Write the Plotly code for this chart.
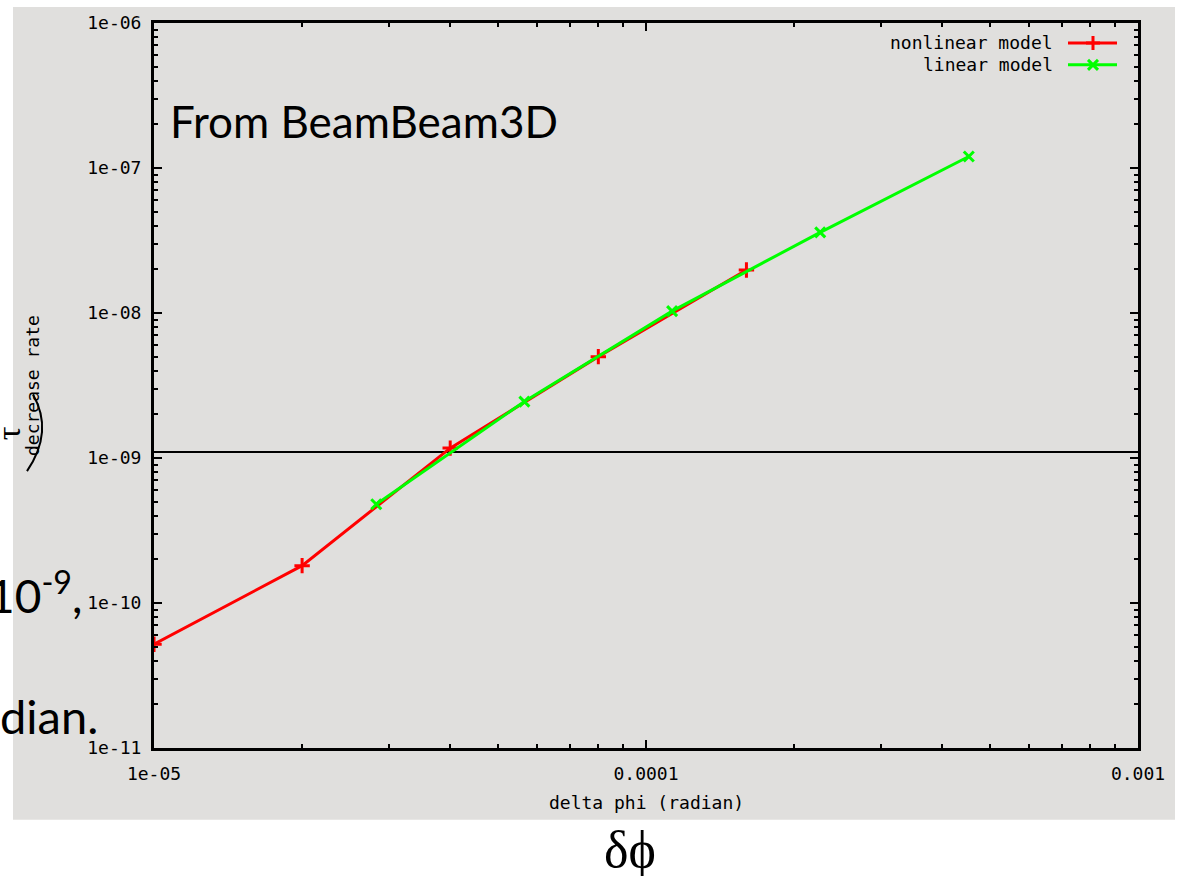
import plotly.graph_objects as go

# ---- data ----
nonlinear_x = [1e-5, 2e-5, 4e-5, 8e-5, 1.6e-4]
nonlinear_y = [5.2e-11, 1.81e-10, 1.17e-9, 5.0e-9, 1.98e-8]
linear_x = [2.83e-5, 5.66e-5, 1.13e-4, 2.26e-4, 4.53e-4]
linear_y = [4.8e-10, 2.45e-9, 1.03e-8, 3.6e-8, 1.2e-7]
threshold_y = 1.1e-9
x_range = [1e-5, 1e-3]
y_range = [1e-11, 1e-6]
x_tickvals = [1e-5, 1e-4, 1e-3]
x_ticktext = ["1e-05", "0.0001", "0.001"]
y_tickvals = [1e-11, 1e-10, 1e-9, 1e-8, 1e-7, 1e-6]
y_ticktext = ["1e-11", "1e-10", "1e-09", "1e-08", "1e-07", "1e-06"]
minor_digits = [2, 3, 4, 5, 6, 7, 8, 9]
series_names = ["nonlinear model", "linear model"]
series_colors = ["#ff0000", "#00ff00"]

x_minor = [d * v for v in x_tickvals[:-1] for d in minor_digits]
y_minor = [d * v for v in y_tickvals[:-1] for d in minor_digits]

W, H = 1186, 876
L, R, T, B = 154, 1138, 20, 748  # plot area in px


def px(x):
    return (x - L) / (R - L)


def py(y):
    return (B - y) / (B - T)


BG = "#e0dfdd"
MONO = "DejaVu Sans Mono"
MSIZE = 18

fig = go.Figure()

fig.add_trace(go.Scatter(
    x=x_range, y=[threshold_y, threshold_y], mode="lines",
    line=dict(color="black", width=2), showlegend=False, hoverinfo="skip"))

fig.add_trace(go.Scatter(
    x=nonlinear_x, y=nonlinear_y, mode="lines+markers", name=series_names[0],
    line=dict(color=series_colors[0], width=3),
    marker=dict(symbol="cross-thin", size=11, line=dict(color=series_colors[0], width=3)),
    showlegend=False))

fig.add_trace(go.Scatter(
    x=linear_x, y=linear_y, mode="lines+markers", name=series_names[1],
    line=dict(color=series_colors[1], width=3),
    marker=dict(symbol="x-thin", size=10, line=dict(color=series_colors[1], width=3)),
    showlegend=False))

# legend samples (gnuplot style: text then sample) on an overlay paper-like axis
leg_y = [py(40), py(62)]
for i, (nm, col, sym) in enumerate(zip(series_names, series_colors, ["cross-thin", "x-thin"])):
    fig.add_trace(go.Scatter(
        x=[px(1068), px(1117)], y=[leg_y[i], leg_y[i]], mode="lines",
        line=dict(color=col, width=3), xaxis="x2", yaxis="y2",
        showlegend=False, hoverinfo="skip"))
    fig.add_trace(go.Scatter(
        x=[px(1093)], y=[leg_y[i]], mode="markers",
        marker=dict(symbol=sym, size=10, line=dict(color=col, width=3)),
        xaxis="x2", yaxis="y2", showlegend=False, hoverinfo="skip"))
    fig.add_annotation(x=px(1055), y=leg_y[i], xref="paper", yref="paper",
                       text=nm, showarrow=False, xanchor="right", yanchor="middle",
                       font=dict(family=MONO, size=MSIZE, color="black"))

axis_common = dict(
    type="log", showgrid=False, zeroline=False, showline=True,
    linecolor="black", linewidth=3, mirror="allticks",
    ticks="inside", ticklen=8, tickwidth=2, tickcolor="black",
    tickfont=dict(family=MONO, size=MSIZE, color="black"),
)

fig.update_layout(
    width=W, height=H,
    margin=dict(l=L, r=W - R, t=T, b=H - B),
    paper_bgcolor="white", plot_bgcolor=BG,
    xaxis=dict(range=[-5, -3], tickvals=x_tickvals, ticktext=x_ticktext,
               ticklabelstandoff=7,
               minor=dict(tickmode="array", tickvals=x_minor, ticks="inside", ticklen=4,
                          tickwidth=2, tickcolor="black", showgrid=False),
               **axis_common),
    yaxis=dict(range=[-11, -6], tickvals=y_tickvals, ticktext=y_ticktext,
               ticklabelstandoff=6,
               minor=dict(tickmode="array", tickvals=y_minor, ticks="inside", ticklen=4,
                          tickwidth=2, tickcolor="black", showgrid=False),
               **axis_common),
    xaxis2=dict(range=[0, 1], overlaying="x", visible=False, fixedrange=True),
    yaxis2=dict(range=[0, 1], overlaying="y", visible=False, fixedrange=True),
    showlegend=False,
)

# gray gnuplot window panel behind the plot
fig.add_shape(type="rect", xref="paper", yref="paper",
              x0=px(13), x1=px(1175), y0=py(820), y1=py(4),
              fillcolor=BG, line=dict(width=0), layer="below")

# axis titles
fig.add_annotation(x=0.5, y=py(815), xref="paper", yref="paper", text="delta phi (radian)",
                   showarrow=False, font=dict(family=MONO, size=MSIZE, color="black"))
fig.add_annotation(x=px(20), y=0.5, xref="paper", yref="paper", text="decrease rate",
                   textangle=-90, showarrow=False, font=dict(family=MONO, size=MSIZE, color="black"))

# slide overlay text
SLIDE = "Lato"
fig.add_annotation(x=px(168), y=py(118), xref="paper", yref="paper", text="From BeamBeam3D",
                   showarrow=False, xanchor="left", yanchor="middle",
                   font=dict(family=SLIDE, size=44, color="black"))
fig.add_annotation(x=px(84), y=py(592), xref="paper", yref="paper", text="10<sup>-9</sup>,",
                   showarrow=False, xanchor="right", yanchor="middle",
                   font=dict(family=SLIDE, size=46, color="black"))
fig.add_annotation(x=px(100), y=py(716), xref="paper", yref="paper", text="dian.",
                   showarrow=False, xanchor="right", yanchor="middle",
                   font=dict(family=SLIDE, size=47, color="black"))
fig.add_annotation(x=px(630), y=py(850), xref="paper", yref="paper", text="δϕ",
                   showarrow=False, xanchor="center", yanchor="middle",
                   font=dict(family="Liberation Serif", size=52, color="black"))
fig.add_annotation(x=px(8), y=py(432), xref="paper", yref="paper", text="τ",
                   textangle=-90, showarrow=False, xanchor="center", yanchor="middle",
                   font=dict(family="Liberation Serif", size=34, color="black"))
fig.add_shape(type="path", xref="paper", yref="paper",
              path=f"M {px(33)},{py(393)} Q {px(54)},{py(430)} {px(27)},{py(470)}",
              line=dict(color="black", width=2))

fig.write_html("out.html")
